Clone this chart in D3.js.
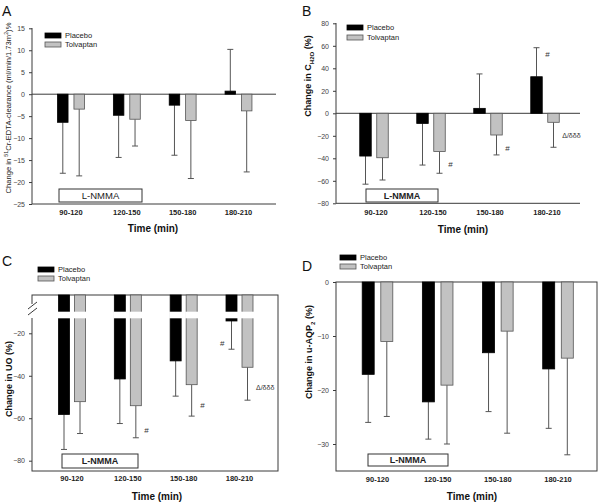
<!DOCTYPE html>
<html><head><meta charset="utf-8">
<script src="https://cdn.jsdelivr.net/npm/d3@7"></script>
<style>
html,body{margin:0;padding:0;background:#fff;}
svg{display:block;font-family:"Liberation Sans",Arial,sans-serif;}
</style></head>
<body>
<svg id="chart" width="600" height="503"></svg>
<script>
// ---------- DATA ----------
const categories = ["90-120", "120-150", "150-180", "180-210"];
const seriesNames = ["Placebo", "Tolvaptan"];

// Panel A: change in 51Cr-EDTA clearance
const aPlacebo = [-6.4, -4.8, -2.5, 0.7];
const aPlaceboSD = [11.6, 9.6, 11.4, 9.5];
const aTolvaptan = [-3.4, -5.7, -6.0, -3.8];
const aTolvaptanSD = [15.2, 6.1, 13.2, 13.9];
const aTicks = [15, 10, 5, 0, -5, -10, -15, -20, -25];

// Panel B: change in C_H2O
const bPlacebo = [-38, -9, 4.4, 32.5];
const bPlaceboSD = [25, 37, 30.6, 25.8];
const bTolvaptan = [-39.5, -34, -19.3, -8];
const bTolvaptanSD = [19.8, 19.3, 17.7, 22.2];
const bTicks = [80, 60, 40, 20, 0, -20, -40, -60, -80];
const bNotes = [
  {text: "#", cat: "120-150", series: "Tolvaptan", value: -45},
  {text: "#", cat: "150-180", series: "Tolvaptan", value: -31},
  {text: "#", cat: "180-210", series: "Placebo", value: 53},
  {text: "\u0394/\u03b4\u03b4\u03b4", cat: "180-210", series: "Tolvaptan", value: -19.5}
];

// Panel C: change in UO
const cPlacebo = [-58.2, -41.5, -33, -14.2];
const cPlaceboSD = [16.5, 21, 16.6, 13.3];
const cTolvaptan = [-52.2, -54.1, -44.2, -36];
const cTolvaptanSD = [15, 15.1, 14.8, 15.5];
const cTicks = [-20, -40, -60, -80];
const cNotes = [
  {text: "#", cat: "120-150", series: "Tolvaptan", value: -65.5},
  {text: "#", cat: "150-180", series: "Tolvaptan", value: -54},
  {text: "#", cat: "180-210", series: "Placebo", value: -24.5},
  {text: "\u0394/\u03b4\u03b4\u03b4", cat: "180-210", series: "Tolvaptan", value: -45.5}
];

// Panel D: change in u-AQP2
const dPlacebo = [-17.1, -22.2, -13.1, -16.1];
const dPlaceboSD = [8.9, 6.9, 10.9, 11];
const dTolvaptan = [-11, -19.1, -9.1, -14.1];
const dTolvaptanSD = [13.9, 10.9, 18.9, 17.9];
const dTicks = [0, -10, -20, -30];

// ---------- DRAW ----------
const svg = d3.select("#chart");
const FILL = {Placebo: "#000", Tolvaptan: "#c2c2c2"};
const STROKE = {Placebo: "#000", Tolvaptan: "#555"};
const AX = "#3a3a3a";

function panel(cfg) {
  const g = svg.append("g");
  const x = d3.scalePoint().domain(categories).range([cfg.c0, cfg.c1]);
  const xs = d3.scalePoint().domain(seriesNames).range([-cfg.off, cfg.off]);
  const y = d3.scaleLinear().domain(cfg.domain).range(cfg.yrange);
  const base = cfg.baseY !== undefined ? cfg.baseY : y(0);
  const bw = cfg.bw;

  if (cfg.box) {
    g.append("rect").attr("x", cfg.L).attr("y", cfg.T).attr("width", cfg.R - cfg.L).attr("height", cfg.B - cfg.T)
      .attr("fill", "none").attr("stroke", AX).attr("stroke-width", 1);
  } else {
    g.append("line").attr("x1", cfg.L).attr("x2", cfg.R).attr("y1", cfg.B).attr("y2", cfg.B).attr("stroke", AX);
    g.append("line").attr("x1", cfg.L).attr("x2", cfg.L).attr("y1", cfg.T).attr("y2", cfg.B).attr("stroke", AX);
    g.append("line").attr("x1", cfg.L).attr("x2", cfg.R).attr("y1", y(0)).attr("y2", y(0)).attr("stroke", AX);
  }
  const yAxis = d3.axisLeft(y).tickValues(cfg.ticks).tickSize(3).tickPadding(4).tickFormat(d3.format("d"));
  const ag = g.append("g").attr("transform", `translate(${cfg.L},0)`).call(yAxis);
  ag.select(".domain").remove();
  ag.selectAll(".tick line").attr("stroke", AX);
  ag.selectAll(".tick text").attr("fill", "#444").style("font-size", "7px");

  g.append("rect").attr("x", cfg.nm[0]).attr("y", cfg.nm[1]).attr("width", cfg.nm[2]).attr("height", cfg.nm[3])
    .attr("fill", "#fff").attr("stroke", "#333").attr("stroke-width", 1);
  g.append("text").attr("x", cfg.nm[0] + cfg.nm[2] / 2).attr("y", cfg.nm[1] + cfg.nm[3] / 2 + 3.3)
    .attr("text-anchor", "middle").style("font-size", cfg.nmBold ? "9px" : "9.5px").style("font-weight", cfg.nmBold ? "bold" : "normal")
    .attr("fill", "#222").text("L-NMMA");

  const rows = [];
  seriesNames.forEach((s, si) => {
    const vals = cfg.values[si], sds = cfg.sds[si];
    categories.forEach((c, ci) => rows.push({s, c, v: vals[ci], sd: sds[ci]}));
  });
  rows.forEach(d => {
    const cx = x(d.c) + xs(d.s);
    const end = d.v >= 0 ? d.v + d.sd : d.v - d.sd;
    const yv = y(d.v);
    g.append("line").attr("x1", cx).attr("x2", cx).attr("y1", yv).attr("y2", y(end)).attr("stroke", "#555").attr("stroke-width", 1);
    g.append("line").attr("x1", cx - 3).attr("x2", cx + 3).attr("y1", y(end)).attr("y2", y(end)).attr("stroke", "#555").attr("stroke-width", 1);
    g.append("rect").attr("x", cx - bw / 2).attr("width", bw)
      .attr("y", Math.min(yv, base)).attr("height", Math.max(1.2, Math.abs(yv - base)))
      .attr("fill", FILL[d.s]).attr("stroke", STROKE[d.s]).attr("stroke-width", 0.8);
    if (cfg.gap) {
      g.append("rect").attr("x", cx - bw / 2 - 1).attr("width", bw + 2)
        .attr("y", cfg.gap[0]).attr("height", cfg.gap[1] - cfg.gap[0]).attr("fill", "#fff");
    }
  });

  (cfg.notes || []).forEach(n => {
    const cx = x(n.cat) + xs(n.series);
    const dx = n.text === "#" ? (n.series === "Placebo" && cfg.hashLeft ? -bw / 2 - 6 : bw / 2 + 3) : bw / 2 + 3;
    g.append("text").attr("x", cx + dx).attr("y", y(n.value) + 3)
      .style("font-size", n.text === "#" ? "8px" : "7px").attr("fill", "#333").text(n.text);
  });

  categories.forEach(c => {
    g.append("text").attr("x", x(c) + cfg.lblDx).attr("y", cfg.lblY).attr("text-anchor", "middle")
      .style("font-size", "7.5px").style("font-weight", "bold").attr("fill", "#222").text(c);
  });
  g.append("text").attr("x", cfg.timeX).attr("y", cfg.timeY).attr("text-anchor", "middle")
    .style("font-size", "10px").style("font-weight", "bold").attr("fill", "#111").text("Time (min)");

  seriesNames.forEach((s, i) => {
    g.append("rect").attr("x", cfg.leg[0]).attr("y", cfg.leg[1] + i * cfg.leg[2]).attr("width", 16).attr("height", 5)
      .attr("fill", FILL[s]).attr("stroke", STROKE[s]).attr("stroke-width", 0.8);
    g.append("text").attr("x", cfg.leg[0] + 20).attr("y", cfg.leg[1] + i * cfg.leg[2] + 5)
      .style("font-size", "7.5px").attr("fill", "#222").text(s);
  });

  g.append("text").attr("x", cfg.letter[0]).attr("y", cfg.letter[1]).style("font-size", "14px").attr("fill", "#111").text(cfg.name);
  return {g, y};
}

// A
const pA = panel({name: "A", letter: [2, 16], L: 32, R: 276, T: 28, B: 204, box: false,
  domain: [15, -25], yrange: [28.3, 204], ticks: aTicks,
  c0: 71, c1: 238.5, off: 8.2, bw: 10.5,
  values: [aPlacebo, aTolvaptan], sds: [aPlaceboSD, aTolvaptanSD],
  nm: [59, 189, 83, 13], nmBold: false, lblY: 215, lblDx: 0, timeX: 153, timeY: 232,
  leg: [45, 33, 9]});
pA.g.append("text").attr("transform", "translate(11,108) rotate(-90)").attr("text-anchor", "middle")
  .style("font-size", "7.6px").attr("fill", "#222")
  .call(t => {
    t.append("tspan").text("Change in ");
    t.append("tspan").attr("dy", -3).style("font-size", "5.3px").text("51");
    t.append("tspan").attr("dy", 3).text("Cr-EDTA-clearance (ml/min/1.73m");
    t.append("tspan").attr("dy", -3).style("font-size", "5.3px").text("2");
    t.append("tspan").attr("dy", 3).text(")%");
  });

// B
const pB = panel({name: "B", letter: [302, 16], L: 336, R: 580, T: 23, B: 203.3, box: false,
  domain: [80, -80], yrange: [23.3, 203.3], ticks: bTicks,
  c0: 374, c1: 545, off: 8.5, bw: 11.5,
  values: [bPlacebo, bTolvaptan], sds: [bPlaceboSD, bTolvaptanSD], notes: bNotes,
  nm: [366, 189, 72, 13], nmBold: true, lblY: 215, lblDx: 2, timeX: 463, timeY: 233,
  leg: [347, 25, 10]});
pB.g.append("text").attr("transform", "translate(311,76) rotate(-90)").attr("text-anchor", "middle")
  .style("font-size", "9px").style("font-weight", "bold").attr("fill", "#111")
  .call(t => {
    t.append("tspan").text("Change in C");
    t.append("tspan").attr("dy", 2.5).style("font-size", "6px").text("H2O");
    t.append("tspan").attr("dy", -2.5).text(" (%)");
  });

// C (broken axis)
const pC = panel({name: "C", letter: [2, 266], L: 32, R: 278, T: 295, B: 471, box: true,
  domain: [-20, -80], yrange: [333.3, 460.7], ticks: cTicks, baseY: 295, gap: [311.7, 318.3],
  c0: 72, c1: 239.5, off: 8, bw: 11,
  values: [cPlacebo, cTolvaptan], sds: [cPlaceboSD, cTolvaptanSD], notes: cNotes, hashLeft: true,
  nm: [62, 454, 76, 14], nmBold: true, lblY: 481, lblDx: 0, timeX: 157, timeY: 500,
  leg: [38, 267, 9]});
pC.g.append("rect").attr("x", 29).attr("y", 304).attr("width", 6).attr("height", 14).attr("fill", "#fff");
[0, 6].forEach(d => pC.g.append("line").attr("x1", 28).attr("x2", 37).attr("y1", 309 + d).attr("y2", 302 + d).attr("stroke", AX));
pC.g.append("text").attr("transform", "translate(12,379) rotate(-90)").attr("text-anchor", "middle")
  .style("font-size", "9px").style("font-weight", "bold").attr("fill", "#111").text("Change in UO (%)");

// D
const pD = panel({name: "D", letter: [302, 271], L: 336, R: 597, T: 282, B: 471, box: true,
  domain: [0, -35], yrange: [282, 471], ticks: dTicks,
  c0: 377.5, c1: 558, off: 9.3, bw: 12,
  values: [dPlacebo, dTolvaptan], sds: [dPlaceboSD, dTolvaptanSD],
  nm: [368, 454, 80, 12], nmBold: true, lblY: 482, lblDx: 0, timeX: 472, timeY: 500,
  leg: [340, 255, 9]});
pD.g.append("text").attr("transform", "translate(312,352) rotate(-90)").attr("text-anchor", "middle")
  .style("font-size", "9px").style("font-weight", "bold").attr("fill", "#111")
  .call(t => {
    t.append("tspan").text("Change in u-AQP");
    t.append("tspan").attr("dy", 2.5).style("font-size", "6px").text("2");
    t.append("tspan").attr("dy", -2.5).text(" (%)");
  });
</script>
</body></html>
